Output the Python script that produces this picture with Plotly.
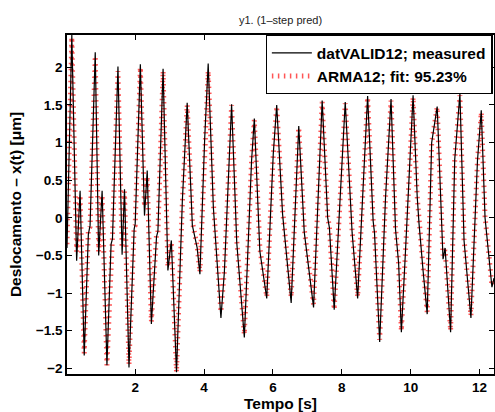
import plotly.graph_objects as go

# Measured signal (datVALID12) – extrema/kink points
t_meas = [0.02, 0.16, 0.30, 0.40, 0.52, 0.64, 0.69, 0.84, 0.94, 1.04, 1.18, 1.30, 1.34,
          1.50, 1.62, 1.69, 1.82, 1.97, 2.00, 2.15, 2.27, 2.35, 2.47, 2.62, 2.66, 2.81,
          2.95, 3.05, 3.20, 3.37, 3.51, 3.66, 3.80, 3.88, 4.02, 4.12, 4.27, 4.49, 4.59,
          4.71, 4.80, 4.95, 5.01, 5.17, 5.38, 5.46, 5.62, 5.82, 6.01, 6.11, 6.28, 6.46,
          6.53, 6.75, 6.91, 7.18, 7.35, 7.43, 7.59, 7.64, 7.78, 7.88, 8.10, 8.30, 8.46,
          8.64, 8.75, 8.91, 8.95, 9.10, 9.27, 9.43, 9.56, 9.65, 9.73, 9.85, 10.07, 10.19,
          10.24, 10.36, 10.48, 10.61, 10.77, 10.94, 11.00, 11.16, 11.28, 11.43, 11.55,
          11.75, 11.94, 12.05, 12.16, 12.36, 12.42]
y_meas = [-0.40, 2.43, -0.57, 0.36, -1.83, -0.22, -0.10, 2.20, -0.50, 0.36, -1.96, -0.35, -0.28,
          2.01, -0.49, 0.38, -1.99, -0.15, -0.08, 2.04, 0.03, 0.63, -1.41, -0.25, -0.18, 1.98,
          -0.70, -0.30, -2.05, 0.23, 1.53, -0.10, -0.40, -0.75, 1.07, 2.05, 0.14, -1.33, -0.72,
          0.61, 1.51, -0.33, -0.70, -1.59, 0.76, 1.32, -0.44, -1.07, 0.85, 1.50, 0.05, -0.75,
          -1.13, 1.22, -0.19, -1.19, 0.83, 1.56, 0.00, -0.13, -1.22, -0.39, 1.54, -0.20, -1.07,
          0.60, 1.62, -0.04, -0.20, -1.65, 0.27, 1.58, -0.15, -0.60, -1.52, -0.44, 1.63, 0.28,
          -0.06, -0.70, -1.28, 1.00, 1.48, -0.55, -0.40, -1.52, 0.78, 1.65, -0.30,
          -1.33, 0.76, 1.43, 0.00, -0.92, -0.80]

# One-step prediction (ARMA12)
t_pred = t_meas
y_pred = [-0.35, 2.40, -0.45, 0.30, -1.80, -0.16, -0.12, 2.15, -0.45, 0.30, -1.96, -0.30, -0.25,
          1.95, -0.40, 0.35, -1.95, -0.12, -0.10, 2.00, 0.15, 0.55, -1.38, -0.22, -0.20, 1.95,
          -0.65, -0.32, -2.05, 0.20, 1.50, -0.05, -0.38, -0.72, 1.07, 1.95, 0.20, -1.25, -0.70,
          0.60, 1.50, -0.30, -0.65, -1.55, 0.76, 1.30, -0.40, -1.05, 0.85, 1.48, 0.10, -0.75,
          -1.05, 1.20, -0.15, -1.15, 0.83, 1.54, 0.02, -0.12, -1.22, -0.39, 1.52, -0.18, -1.05,
          0.60, 1.60, -0.04, -0.18, -1.62, 0.27, 1.56, -0.12, -0.60, -1.50, -0.44, 1.60, 0.28,
          -0.06, -0.65, -1.25, 1.00, 1.47, -0.50, -0.42, -1.50, 0.78, 1.63, -0.28,
          -1.30, 0.76, 1.40, 0.02, -0.90, -0.82]

FONT = "Liberation Sans, Arial, Helvetica, sans-serif"

fig = go.Figure()
fig.add_trace(go.Scatter(
    x=t_pred, y=y_pred, mode="lines", name="ARMA12; fit: 95.23%",
    line=dict(color="rgba(255,30,30,0.75)", width=5, dash="1.5px,4.5px"),
    legendrank=2,
))
fig.add_trace(go.Scatter(
    x=t_meas, y=y_meas, mode="lines", name="datVALID12; measured",
    line=dict(color="black", width=1.2),
    legendrank=1,
))

fig.update_layout(
    width=495, height=412,
    margin=dict(l=67, r=1, t=35, b=38, autoexpand=False),
    paper_bgcolor="white", plot_bgcolor="white",
    font=dict(family=FONT, color="black"),
    title=dict(text="y1. (1–step pred)", x=0.5, xref="paper", xanchor="center",
               y=1 - 20 / 412, yref="container", yanchor="middle",
               font=dict(size=11, family=FONT, color="#222")),
    legend=dict(x=0.465, y=1, xanchor="left", yanchor="top", bgcolor="white",
                bordercolor="black", borderwidth=1.3,
                font=dict(size=15.5, family=FONT, weight="bold"),
                itemwidth=40, tracegroupgap=0),
    showlegend=True,
)
fig.update_xaxes(
    automargin=False,
    range=[0.02, 12.42], tickvals=[2, 4, 6, 8, 10, 12],
    ticks="inside", ticklen=5, tickwidth=1, tickcolor="black",
    showline=True, linecolor="black", linewidth=1.5, mirror="ticks",
    showgrid=False, zeroline=False,
    tickfont=dict(size=13.5, family=FONT, weight="bold"),
    title=dict(text="Tempo [s]", font=dict(size=15.5, family=FONT, weight="bold"), standoff=1),
)
fig.update_yaxes(
    automargin=False,
    range=[-2.075, 2.43], tickvals=[-2, -1.5, -1, -0.5, 0, 0.5, 1, 1.5, 2],
    ticks="inside", ticklen=5, tickwidth=1, tickcolor="black",
    showline=True, linecolor="black", linewidth=1.5, mirror="ticks",
    showgrid=False, zeroline=False,
    tickfont=dict(size=13.5, family=FONT, weight="bold"),
    title=dict(text="Deslocamento – x(t) [μm]", font=dict(size=15.5, family=FONT, weight="bold"),
               standoff=10),
)

fig.write_html("out.html", config={"displayModeBar": False},
               post_script="document.body.style.margin='0';document.body.style.overflow='hidden';")
